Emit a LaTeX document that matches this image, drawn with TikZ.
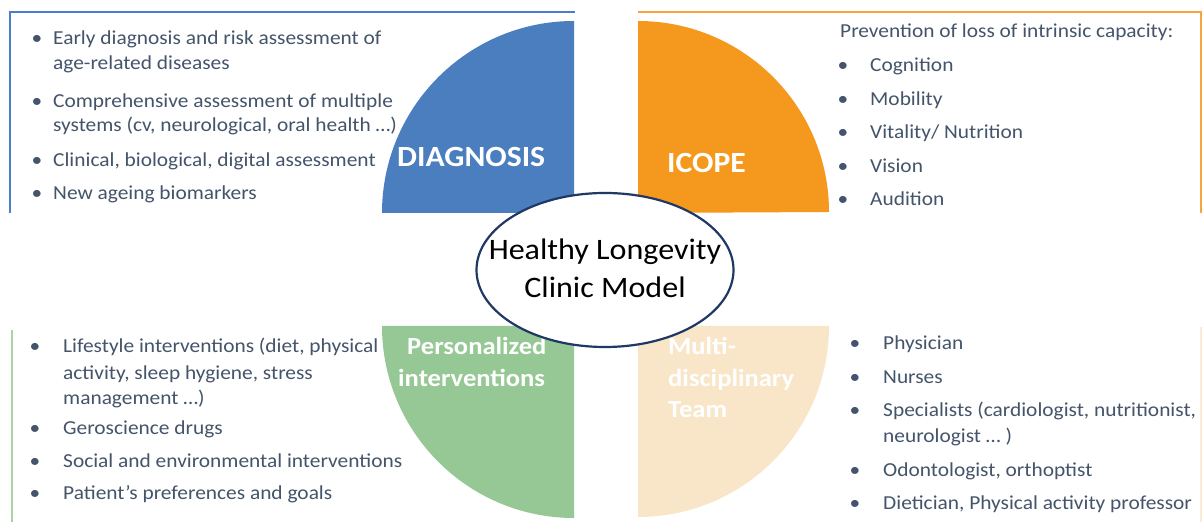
\documentclass[tikz,border=0pt]{standalone}
\usepackage{fontspec}
\setmainfont{Carlito}[FakeStretch=1.08]
\usetikzlibrary{shapes.geometric}
\definecolor{cblue}{HTML}{4A7EBF}
\definecolor{corange}{HTML}{F4991D}
\definecolor{cgreen}{HTML}{96C895}
\definecolor{cbeige}{HTML}{F9E6C8}
\definecolor{ctext}{HTML}{44546A}
\definecolor{cnavy}{HTML}{1F3864}
\definecolor{lblue}{HTML}{4A7EC8}
\definecolor{lorange}{HTML}{F5A640}
\definecolor{lgreen}{HTML}{A8D5A2}
\definecolor{lbeige}{HTML}{FAEBD5}
\begin{document}
\begin{tikzpicture}[x=1pt,y=1pt,
  item/.style={anchor=base west, inner sep=0pt, text=ctext, font=\fontsize{19.8}{24}\selectfont},
  dot/.style={anchor=base, inner sep=0pt, text=ctext, font=\fontsize{19.8}{24}\selectfont},
  head/.style={anchor=base west, inner sep=0pt, text=white, font=\fontsize{29.3}{34}\selectfont\bfseries},
  subhead/.style={anchor=base west, inner sep=0pt, text=white, font=\fontsize{24.6}{30}\selectfont\bfseries},
  core/.style={anchor=base, inner sep=0pt, text=black, font=\fontsize{29.7}{34}\selectfont},
  frame/.style={line width=2pt}
]
\useasboundingbox (0,0) rectangle (1203,522);
\fill[white] (0,0) rectangle (1203,522);

% frames
\draw[frame, lblue] (10,309) -- (10,510) -- (575,510);
\draw[frame, lorange] (638,510) -- (1201,510) -- (1201,309);
\draw[frame, lgreen] (12,192) -- (12,0);
\draw[frame, lbeige] (1201,195) -- (1201,0);

% quarter sectors
\fill[cblue] (574,309) -- ++(-192,0) arc[start angle=180, end angle=90, radius=192] -- cycle;
\fill[corange] (638,309) -- ++(0,192) arc[start angle=90, end angle=0, radius=191] -- cycle;
\fill[cgreen] (574,196) -- ++(-192,0) arc[start angle=180, end angle=270, radius=192] -- cycle;
\fill[cbeige] (638,196) -- ++(191,0) arc[start angle=0, end angle=-90, radius=191] -- cycle;

% headings
\node[head] (hdiag) at (397,355) {DIAGNOSIS};
\node[head] (hicope) at (667,349) {ICOPE};
\node[subhead] (hpers1) at (407,167) {Personalized};
\node[subhead] (hpers2) at (398,135) {interventions};
\node[subhead] (hmult1) at (668,167) {Multi-};
\node[subhead] (hmult2) at (668,135) {disciplinary};
\node[subhead] (hmult3) at (668,104) {Team};

% centre ellipse
\node[ellipse, draw=cnavy, line width=2.2pt, fill=white, minimum width=257pt, minimum height=154pt, inner sep=0pt] (centre) at (605,252) {};
\node[core] (c1) at (605,262) {Healthy Longevity};
\node[core] (c2) at (605,224) {Clinic Model};

% top-left list
\node[dot] (a1d) at (37,477) {•};
\node[item] (a1) at (53,477) {Early diagnosis and risk assessment of};
\node[item] (a1b) at (53,452) {age-related diseases};
\node[dot] (a2d) at (37,414) {•};
\node[item] (a2) at (53,414) {Comprehensive assessment of multiple};
\node[item] (a2b) at (53,390) {systems (cv, neurological, oral health …)};
\node[dot] (a3d) at (37,355) {•};
\node[item] (a3) at (53,355) {Clinical, biological, digital assessment};
\node[dot] (a4d) at (37,322) {•};
\node[item] (a4) at (53,322) {New ageing biomarkers};

% top-right list
\node[item] (b0) at (840,484) {Prevention of loss of intrinsic capacity:};
\node[dot] (b1d) at (843,450) {•};
\node[item] (b1) at (870,450) {Cognition};
\node[dot] (b2d) at (843,416) {•};
\node[item] (b2) at (870,416) {Mobility};
\node[dot] (b3d) at (843,383) {•};
\node[item] (b3) at (870,383) {Vitality/ Nutrition};
\node[dot] (b4d) at (843,349) {•};
\node[item] (b4) at (870,349) {Vision};
\node[dot] (b5d) at (843,316) {•};
\node[item] (b5) at (870,316) {Audition};

% bottom-left list
\node[dot] (c1d) at (35,169) {•};
\node[item] (l1) at (63,169) {Lifestyle interventions (diet, physical};
\node[item] (l1b) at (63,142) {activity, sleep hygiene, stress};
\node[item] (l1c) at (63,117) {management …)};
\node[dot] (c2d) at (35,87) {•};
\node[item] (l2) at (63,87) {Geroscience drugs};
\node[dot] (c3d) at (35,54) {•};
\node[item] (l3) at (63,54) {Social and environmental interventions};
\node[dot] (c4d) at (35,22) {•};
\node[item] (l4) at (63,22) {Patient’s preferences and goals};

% bottom-right list
\node[dot] (d1d) at (855,172) {•};
\node[item] (r1) at (883,172) {Physician};
\node[dot] (d2d) at (855,138) {•};
\node[item] (r2) at (883,138) {Nurses};
\node[dot] (d3d) at (855,105) {•};
\node[item] (r3) at (883,105) {Specialists (cardiologist, nutritionist,};
\node[item] (r3b) at (883,79) {neurologist … )};
\node[dot] (d4d) at (855,45) {•};
\node[item] (r4) at (883,45) {Odontologist, orthoptist};
\node[dot] (d5d) at (855,12) {•};
\node[item] (r5) at (883,12) {Dietician, Physical activity professor};
\end{tikzpicture}
\end{document}
